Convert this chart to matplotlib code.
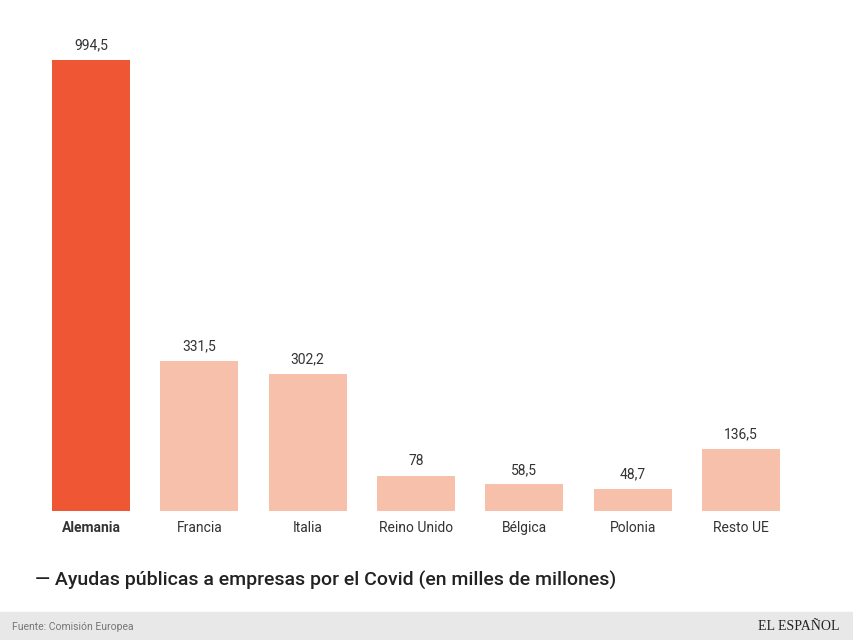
import matplotlib.pyplot as plt
from matplotlib.patches import Rectangle

# data
paises = ["Alemania", "Francia", "Italia", "Reino Unido", "Bélgica", "Polonia", "Resto UE"]
ayudas = [994.5, 331.5, 302.2, 78, 58.5, 48.7, 136.5]
etiquetas = ["994,5", "331,5", "302,2", "78", "58,5", "48,7", "136,5"]

plt.rcParams['font.family'] = ['Roboto', 'DejaVu Sans']

fig = plt.figure(figsize=(8.54, 6.4), dpi=100)
W, H = 854, 640
ax = fig.add_axes([36.8 / W, 1 - 511 / H, 758.3 / W, 499 / H])

colors = ['#ef5734'] + ['#f6c0ab'] * (len(paises) - 1)
x = range(len(paises))
ax.bar(x, ayudas, width=0.72, color=colors)
ax.set_xlim(-0.5, len(paises) - 0.5)
ax.set_ylim(0, 1100)

for i, (v, lab) in enumerate(zip(ayudas, etiquetas)):
    ax.annotate(lab, (i, v), xytext=(0, 5.5), textcoords='offset points',
                ha='center', va='bottom', fontsize=10, color='#333333')

ax.set_xticks(list(x))
ax.set_xticklabels(paises, fontsize=10, color='#333333')
ax.get_xticklabels()[0].set_fontweight('bold')
ax.tick_params(axis='x', length=0, pad=7)
ax.set_yticks([])
for s in ax.spines.values():
    s.set_visible(False)

fig.text(35 / W, 1 - 580 / H, "— Ayudas públicas a empresas por el Covid (en milles de millones)",
         fontsize=14, fontweight='medium', color='#222222', va='center', ha='left')

# footer band
fig.patches.append(Rectangle((0, 0), 1, 28 / H, transform=fig.transFigure,
                             color='#e8e8e8', zorder=0))
fig.text(12 / W, 13 / H, "Fuente: Comisión Europea", fontsize=7.5, color='#777777', va='center')
fig.text(840 / W, 13 / H, "EL ESPAÑOL", fontsize=10, color='#222222', va='center', ha='right',
         family='Liberation Serif')

fig.savefig("out.png", dpi=100)
